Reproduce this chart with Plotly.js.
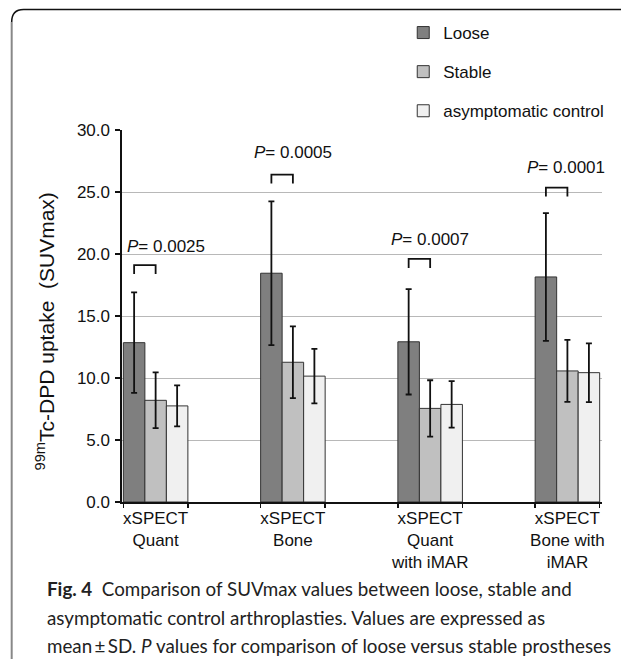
<!DOCTYPE html>
<html>
<head>
<meta charset="utf-8">
<script src="https://cdn.plot.ly/plotly-3.0.1.min.js"></script>
<style>html,body{margin:0;padding:0;background:#fff;}</style>
</head>
<body>
<div id="chart" style="width:621px;height:659px;"></div>
<script>
// ---- data ----
const categories = ['xSPECT<br>Quant', 'xSPECT<br>Bone', 'xSPECT<br>Quant<br>with iMAR', 'xSPECT<br>Bone with<br>iMAR'];
const seriesNames = ['Loose', 'Stable', 'asymptomatic control'];
const looseMean = [12.85, 18.45, 12.92, 18.15];
const looseSD = [4.05, 5.8, 4.25, 5.15];
const stableMean = [8.2, 11.27, 7.55, 10.57];
const stableSD = [2.25, 2.9, 2.27, 2.5];
const controlMean = [7.75, 10.15, 7.87, 10.43];
const controlSD = [1.65, 2.2, 1.87, 2.37];
const pValues = ['0.0025', '0.0005', '0.0007', '0.0001'];
const bracketTop = [19.1, 26.4, 19.6, 25.35];
const pLabelY = [20.6, 28.15, 21.2, 27.0];
const yTickVals = [0, 5, 10, 15, 20, 25, 30];

// ---- layout helpers (pixels -> paper) ----
const L = 122, R = 16, T = 130, B = 157, W = 621, H = 659;
const pw = W - L - R, ph = H - T - B;
const PX = x => (x - L) / pw;
const PY = y => (H - B - y) / ph;

const idx = categories.map((c, i) => i);
const bargap = 0.53;
const groupW = 1 - bargap;
const barW = groupW / 3;
const pShift = [0.074, 0, 0, -0.01];
const legLen = 0.72;

const colors = ['#7f7f7f', '#c0c0c0', '#f0f0f0'];
const means = [looseMean, stableMean, controlMean];
const sds = [looseSD, stableSD, controlSD];

const traces = seriesNames.map((name, k) => ({
  type: 'bar',
  name: name,
  legendgroup: 'g' + k,
  x: idx,
  y: means[k],
  marker: {color: colors[k], line: {color: '#333', width: 1}},
  error_y: {type: 'data', array: sds[k], visible: true, color: '#111', thickness: 1.8, width: 3},
  hoverinfo: 'skip'
}));

const shapes = [];
idx.forEach(i => {
  const x0 = i - barW, x1 = i;
  const yt = bracketTop[i], yb = bracketTop[i] - legLen;
  shapes.push({type: 'path', xref: 'x', yref: 'y',
    path: `M${x0},${yb} L${x0},${yt} L${x1},${yt} L${x1},${yb}`,
    line: {color: '#111', width: 1.8}});
});
// frame
shapes.push({type: 'path', xref: 'paper', yref: 'paper',
  path: `M${PX(11)},${PY(22)} Q${PX(11)},${PY(9.5)} ${PX(23)},${PY(9.5)} L${PX(630)},${PY(9.5)}`,
  line: {color: '#111', width: 1.5}});
shapes.push({type: 'line', xref: 'paper', yref: 'paper',
  x0: PX(11), x1: PX(11), y0: PY(22), y1: PY(670),
  line: {color: '#888', width: 2}});

const annotations = idx.map(i => ({
  xref: 'x', yref: 'y', x: i + pShift[i], y: pLabelY[i],
  text: '<i>P</i>= ' + pValues[i], showarrow: false,
  xanchor: 'center', yanchor: 'middle',
  font: {size: 17, color: '#111'}
}));
annotations.push({
  xref: 'paper', yref: 'paper', x: PX(45), y: PY(331),
  text: '<sup>99m</sup>Tc-DPD uptake&nbsp; (SUVmax)', textangle: -90,
  showarrow: false, xanchor: 'center', yanchor: 'middle',
  font: {size: 21, color: '#111'}
});
const captionLines = [
  '<b>Fig. 4</b>&nbsp; Comparison of SUVmax values between loose, stable and',
  'asymptomatic control arthroplasties. Values are expressed as',
  'mean\u2009\u00b1\u2009SD. <i>P</i> values for comparison of loose versus stable prostheses'
];
const captionY = [588, 617, 645];
captionLines.forEach((t, j) => annotations.push({
  xref: 'paper', yref: 'paper', x: PX(45), y: PY(captionY[j]),
  text: t, showarrow: false, xanchor: 'left', yanchor: 'middle', align: 'left',
  font: {family: 'Lato, "Noto Sans", sans-serif', size: 18.8, color: '#222'}
}));

const minorTicks = idx.flatMap(i => [i - groupW / 2, i + groupW / 2]);

const layout = {
  width: W, height: H,
  margin: {l: L, r: R, t: T, b: B, pad: 0},
  paper_bgcolor: '#fff', plot_bgcolor: '#fff',
  font: {family: '"Liberation Sans", Arial, sans-serif', size: 17, color: '#111'},
  barmode: 'group', bargap: bargap, bargroupgap: 0,
  showlegend: true,
  legend: {x: PX(405), y: PY(15), xanchor: 'left', yanchor: 'top',
    font: {size: 17}, tracegroupgap: 14, bgcolor: 'rgba(0,0,0,0)', traceorder: 'grouped'},
  xaxis: {
    range: [-groupW / 2 - 0.01, 3 + groupW / 2 + 0.017],
    tickmode: 'array', tickvals: idx, ticktext: categories,
    ticks: '', showline: true, linecolor: '#111', linewidth: 1.6,
    showgrid: false, zeroline: false,
    minor: {tickmode: 'array', tickvals: minorTicks, ticks: 'outside', ticklen: 4, tickwidth: 1.4, tickcolor: '#111', showgrid: false},
    tickfont: {size: 17}
  },
  yaxis: {
    range: [0, 30], tickmode: 'array', tickvals: yTickVals, tickformat: '.1f',
    ticks: 'outside', ticklen: 5, tickwidth: 1.4, tickcolor: '#111',
    showline: true, linecolor: '#111', linewidth: 1.6,
    showgrid: true, gridcolor: '#b8b8b8', gridwidth: 1, zeroline: false,
    tickfont: {size: 17}, ticklabelstandoff: 2
  },
  shapes: shapes,
  annotations: annotations
};

Plotly.newPlot('chart', traces, layout, {displayModeBar: false, staticPlot: true});
</script>
</body>
</html>
